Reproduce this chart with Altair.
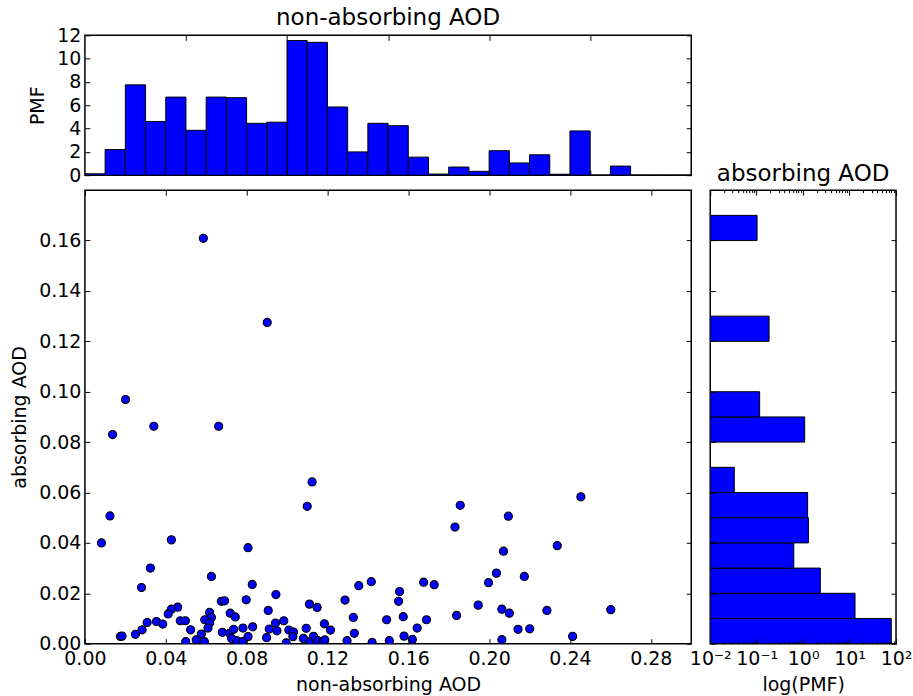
import altair as alt
import pandas as pd

BLUE = "#0000ff"
FONT = "DejaVu Sans"
TICK_FS = 19
LABEL_FS = 19
TITLE_FS = 23

# ---------------- data ----------------
# top histogram (non-absorbing AOD), bins of 0.01
top_bin_start = [0.00, 0.01, 0.02, 0.03, 0.04, 0.05, 0.06, 0.07, 0.08, 0.09,
                 0.10, 0.11, 0.12, 0.13, 0.14, 0.15, 0.16, 0.17, 0.18, 0.19,
                 0.20, 0.21, 0.22, 0.23, 0.24, 0.25, 0.26, 0.27, 0.28, 0.29]
top_pmf = [0.12, 2.2, 7.75, 4.6, 6.7, 3.85, 6.7, 6.65, 4.45, 4.55,
           11.55, 11.4, 5.85, 2.0, 4.45, 4.25, 1.55, 0.1, 0.7, 0.33,
           2.1, 1.05, 1.75, 0.08, 3.8, 0.0, 0.78, 0.0, 0.0, 0.0]

# right histogram (absorbing AOD), bins of 0.01 (non-empty bins only)
right_bin_start = [0.00, 0.01, 0.02, 0.03, 0.04, 0.05, 0.06, 0.08, 0.09, 0.12, 0.16]
right_pmf = [79.0, 13.1, 2.35, 0.63, 1.3, 1.25, 0.033, 1.08, 0.116, 0.185, 0.102]
BIN_W = 0.01
LOG_MIN = 0.01

# scatter
scatter_x = [0.0586, 0.0902, 0.0201,
             0.0137, 0.0341, 0.0662, 0.1124, 0.1100, 0.0124, 0.0082, 0.0428, 0.0807, 0.0324,
             0.0280, 0.0626, 0.0828, 0.0945, 0.1287, 0.1355, 0.1417, 0.1111, 0.1149, 0.0798,
             0.0675, 0.0691, 0.0459, 0.0428, 0.0412, 0.0907, 0.0719, 0.0744, 0.0617, 0.0626,
             0.0593, 0.0617, 0.0609, 0.0308, 0.0354, 0.0385, 0.0472, 0.0497, 0.0523, 0.0283,
             0.0250, 0.0176, 0.0184, 0.0551, 0.0499, 0.0576, 0.0591, 0.0680, 0.0716, 0.0736,
             0.0726, 0.0751, 0.0782, 0.0807, 0.0780, 0.0830, 0.0899, 0.0912, 0.0943, 0.0950,
             0.0984, 0.0996, 0.1009, 0.1032, 0.1029, 0.1095, 0.1081, 0.1114, 0.1131, 0.1152,
             0.1177, 0.1187, 0.1185, 0.1215, 0.1297, 0.1328, 0.1333, 0.1421, 0.1493, 0.1506,
             0.2454, 0.1857, 0.1831, 0.2095, 0.2337, 0.2071, 0.2036, 0.2174, 0.1997, 0.1676,
             0.1728, 0.1557, 0.1552, 0.1946, 0.2063, 0.2100, 0.2286, 0.2602, 0.1839, 0.1575,
             0.1690, 0.1644, 0.2143, 0.2201, 0.1579, 0.1620, 0.2063, 0.2413]
scatter_y = [0.1609, 0.1275, 0.0969,
             0.0830, 0.0863, 0.0863, 0.0642, 0.0545, 0.0507, 0.0400, 0.0412, 0.0381, 0.0300,
             0.0223, 0.0267, 0.0235, 0.0195, 0.0173, 0.0230, 0.0246, 0.0157, 0.0144, 0.0174,
             0.0168, 0.0170, 0.0145, 0.0137, 0.0118, 0.0132, 0.0121, 0.0106, 0.0124, 0.0104,
             0.0095, 0.0082, 0.0062, 0.0084, 0.0088, 0.0078, 0.0091, 0.0091, 0.0055, 0.0055,
             0.0037, 0.0029, 0.0030, 0.0015, 0.0008, 0.0038, 0.0008, 0.0045, 0.0041, 0.0057,
             0.0021, 0.0012, 0.0062, 0.0028, 0.0008, 0.0067, 0.0024, 0.0058, 0.0082, 0.0051,
             0.0091, 0.0003, 0.0054, 0.0046, 0.0028, 0.0061, 0.0021, 0.0008, 0.0029, 0.0012,
             0.0008, 0.0015, 0.0079, 0.0054, 0.0012, 0.0104, 0.0041, 0.0005, 0.0095, 0.0012,
             0.0583, 0.0549, 0.0463, 0.0506, 0.0389, 0.0367, 0.0280, 0.0267, 0.0242, 0.0244,
             0.0234, 0.0207, 0.0168, 0.0153, 0.0137, 0.0121, 0.0132, 0.0135, 0.0112, 0.0107,
             0.0095, 0.0062, 0.0057, 0.0059, 0.0030, 0.0017, 0.0016, 0.0029]

# tick values
main_x_ticks = [0.00, 0.04, 0.08, 0.12, 0.16, 0.20, 0.24, 0.28]
main_y_ticks = [0.00, 0.02, 0.04, 0.06, 0.08, 0.10, 0.12, 0.14, 0.16]
top_x_ticks = [0.05, 0.10, 0.15, 0.20, 0.25]
top_y_ticks = [0, 2, 4, 6, 8, 10, 12]
log_major = [0.01, 0.1, 1, 10, 100]
log_minor = [m * d for d in (0.01, 0.1, 1, 10) for m in range(2, 10)]

top_df = pd.DataFrame({"start": top_bin_start, "pmf": top_pmf})
top_df["end"] = top_df["start"] + BIN_W
top_df["zero"] = 0.0
right_df = pd.DataFrame({"y0": right_bin_start, "pmf": right_pmf})
right_df["y1"] = right_df["y0"] + BIN_W
right_df["base"] = LOG_MIN
sc_df = pd.DataFrame({"x": scatter_x, "y": scatter_y})

# ---------------- helpers ----------------
def axis(orient, values, labels=False, size=5, title=None, fmt=None, label_expr=None,
         title_padding=8, label_padding=4):
    kw = dict(orient=orient, values=values, tickSize=size, offset=-size, domain=False,
              grid=False, labels=labels, tickColor="black", tickWidth=1, zindex=1,
              labelPadding=label_padding, labelFlush=False, labelOverlap=False, labelBound=False,
              labelFont=FONT, labelFontSize=TICK_FS, labelColor="black")
    if title is not None:
        kw.update(title=title, titleFont=FONT, titleFontSize=LABEL_FS, titleFontWeight="normal",
                  titleColor="black", titlePadding=title_padding)
    else:
        kw.update(title=None)
    if fmt is not None:
        kw["format"] = fmt
    if label_expr is not None:
        kw["labelExpr"] = label_expr
    return alt.Axis(**kw)

x_lin = alt.Scale(domain=[0, 0.30], nice=False, zero=False)
y_main = alt.Scale(domain=[0, 0.18], nice=False, zero=False)
y_top = alt.Scale(domain=[0, 12], nice=False, zero=False)
x_log = alt.Scale(type="log", domain=[0.01, 100], nice=False)

MAIN_W, MAIN_H = 607, 454
TOP_H = 140
RIGHT_W = 186

# ---------------- top histogram ----------------
top_bars = alt.Chart(top_df).mark_bar(fill=BLUE, stroke="black", strokeWidth=1, clip=True).encode(
    x=alt.X("start:Q", scale=x_lin, axis=axis("bottom", top_x_ticks)),
    x2="end:Q",
    y=alt.Y("pmf:Q", scale=y_top,
            axis=axis("left", top_y_ticks, labels=True, title="PMF", fmt="d", title_padding=9)),
    y2="zero:Q",
)
top_mirror = alt.Chart(top_df).mark_point(opacity=0).encode(
    x=alt.X("start:Q", scale=x_lin, axis=axis("top", top_x_ticks)),
    y=alt.Y("pmf:Q", scale=y_top, axis=axis("right", top_y_ticks)),
)
top = alt.layer(top_bars, top_mirror).resolve_axis(x="independent", y="independent").properties(
    width=MAIN_W, height=TOP_H,
    title=alt.TitleParams("non-absorbing AOD", font=FONT, fontSize=TITLE_FS, fontWeight="normal",
                          color="black", offset=-4),
)

# ---------------- main scatter ----------------
pts = alt.Chart(sc_df).mark_circle(color=BLUE, stroke="black", strokeWidth=1.1, size=66,
                                   opacity=1, clip=True).encode(
    x=alt.X("x:Q", scale=x_lin,
            axis=axis("bottom", main_x_ticks, labels=True, title="non-absorbing AOD", fmt=".2f",
                      title_padding=7, label_padding=6)),
    y=alt.Y("y:Q", scale=y_main,
            axis=axis("left", main_y_ticks, labels=True, title="absorbing AOD", fmt=".2f",
                      title_padding=9)),
)
pts_mirror = alt.Chart(sc_df).mark_point(opacity=0).encode(
    x=alt.X("x:Q", scale=x_lin, axis=axis("top", main_x_ticks)),
    y=alt.Y("y:Q", scale=y_main, axis=axis("right", main_y_ticks)),
)
main = alt.layer(pts, pts_mirror).resolve_axis(x="independent", y="independent").properties(
    width=MAIN_W, height=MAIN_H)

# ---------------- right histogram ----------------
pow_expr = ("datum.value < 0.05 ? '10⁻²' : datum.value < 0.5 ? '10⁻¹' : "
            "datum.value < 5 ? '10⁰' : datum.value < 50 ? '10¹' : '10²'")
r_bars = alt.Chart(right_df).mark_bar(fill=BLUE, stroke="black", strokeWidth=1, clip=True).encode(
    x=alt.X("pmf:Q", scale=x_log,
            axis=axis("bottom", log_major, labels=True, title="log(PMF)", label_expr=pow_expr,
                      title_padding=7, label_padding=6)),
    x2="base:Q",
    y=alt.Y("y0:Q", scale=y_main, axis=axis("left", main_y_ticks)),
    y2="y1:Q",
)
r_l2 = alt.Chart(right_df).mark_point(opacity=0).encode(
    x=alt.X("pmf:Q", scale=x_log, axis=axis("bottom", log_minor, size=2.5)),
    y=alt.Y("y0:Q", scale=y_main, axis=axis("right", main_y_ticks)),
)
r_l3 = alt.Chart(right_df).mark_point(opacity=0).encode(
    x=alt.X("pmf:Q", scale=x_log, axis=axis("top", log_major)),
    y=alt.Y("y0:Q", scale=y_main, axis=None),
)
r_l4 = alt.Chart(right_df).mark_point(opacity=0).encode(
    x=alt.X("pmf:Q", scale=x_log, axis=axis("top", log_minor, size=2.5)),
    y=alt.Y("y0:Q", scale=y_main, axis=None),
)
right = alt.layer(r_bars, r_l2, r_l3, r_l4).resolve_axis(x="independent", y="independent").properties(
    width=RIGHT_W, height=MAIN_H,
    title=alt.TitleParams("absorbing AOD", font=FONT, fontSize=TITLE_FS, fontWeight="normal",
                          color="black", offset=4),
)

bottom_row = alt.hconcat(main, right, spacing=19, bounds="flush")
chart = alt.vconcat(top, bottom_row, spacing=15, bounds="flush").properties(
    padding={"left": 9, "top": 6, "right": 0, "bottom": 0},
    background="white",
).configure_view(stroke="black", strokeWidth=1.5)

chart.save("out.html", embed_options={"renderer": "svg", "actions": False})
